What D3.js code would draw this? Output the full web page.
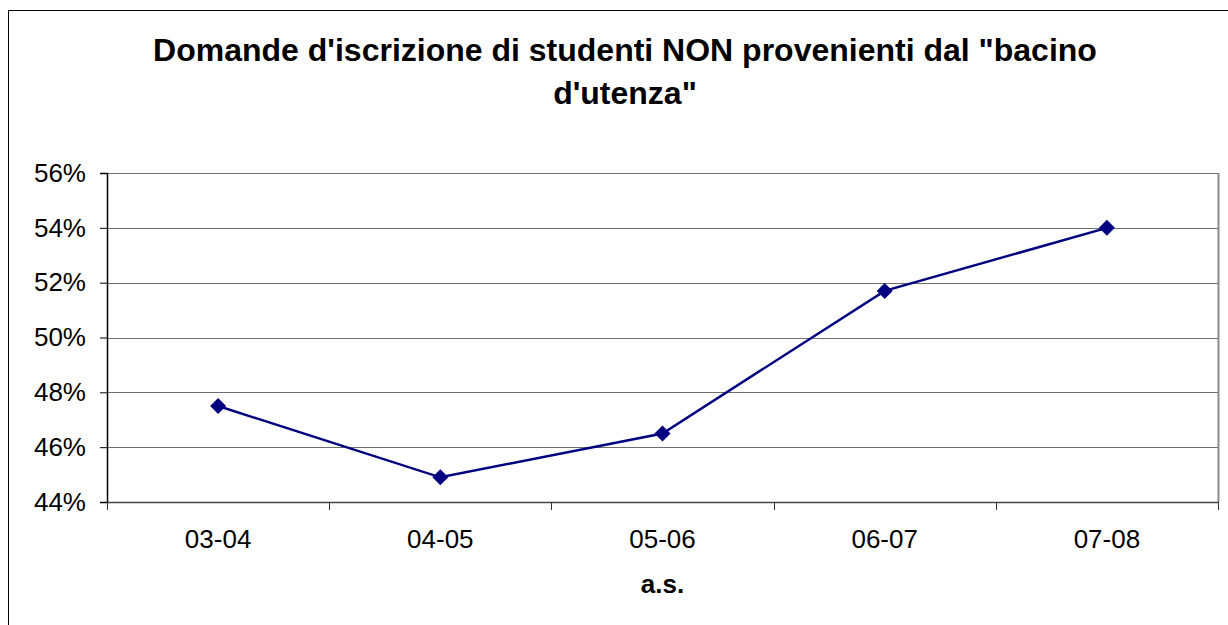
<!DOCTYPE html>
<html>
<head>
<meta charset="utf-8">
<script src="https://cdn.jsdelivr.net/npm/d3@7"></script>
<style>
  html, body { margin: 0; padding: 0; background: #fff; }
  svg { display: block; font-family: Arial, "Liberation Sans", sans-serif; }
  .tick text { font-size: 26px; fill: #000; }
</style>
</head>
<body>
<svg id="chart" width="1228" height="625"></svg>
<script>
'use strict';

var categories = ['03-04', '04-05', '05-06', '06-07', '07-08'];
var values = [0.475, 0.449, 0.465, 0.517, 0.540];
var yTicks = [0.44, 0.46, 0.48, 0.50, 0.52, 0.54, 0.56];
var titleLines = ['Domande d\'iscrizione di studenti NON provenienti dal "bacino', 'd\'utenza"'];
var xTitle = 'a.s.';

var PLOT = { left: 107, top: 173, right: 1218, bottom: 502 };

var svg = d3.select('#chart');

// outer chart border (runs off the right/bottom edge)
svg.append('rect')
  .attr('x', 8.5)
  .attr('y', 10.5)
  .attr('width', 1300)
  .attr('height', 700)
  .attr('fill', '#fff')
  .attr('stroke', '#000')
  .attr('stroke-width', 1);

var xScale = d3.scaleBand()
  .domain(categories)
  .range([PLOT.left, PLOT.right]);

var yScale = d3.scaleLinear()
  .domain([0.44, 0.56])
  .range([PLOT.bottom, PLOT.top]);

// gridlines
svg.append('g')
  .selectAll('line')
  .data(yTicks)
  .enter()
  .append('line')
  .attr('x1', PLOT.left)
  .attr('x2', PLOT.right)
  .attr('y1', function(d) { return Math.round(yScale(d)) + 0.5; })
  .attr('y2', function(d) { return Math.round(yScale(d)) + 0.5; })
  .attr('stroke', '#6e6e6e')
  .attr('stroke-width', 1.2);

// right border of plot area
svg.append('line')
  .attr('x1', PLOT.right + 0.5)
  .attr('x2', PLOT.right + 0.5)
  .attr('y1', PLOT.top)
  .attr('y2', PLOT.bottom)
  .attr('stroke', '#8c8c8c')
  .attr('stroke-width', 2);

// y axis
var yAxis = d3.axisLeft(yScale)
  .tickValues(yTicks)
  .tickSize(7)
  .tickPadding(14)
  .tickFormat(d3.format('.0%'));

var yG = svg.append('g')
  .attr('transform', 'translate(' + PLOT.left + ',0)')
  .call(yAxis);
yG.select('.domain').attr('stroke', '#000').attr('stroke-width', 1.5);
yG.selectAll('.tick line').attr('stroke', '#000');

// x axis, ticks at category boundaries
var xAxis = d3.axisBottom(xScale)
  .tickSize(0)
  .tickPadding(28);

var xG = svg.append('g')
  .attr('transform', 'translate(0,' + PLOT.bottom + ')')
  .call(xAxis);
xG.select('.domain').attr('stroke', '#444').attr('stroke-width', 1.5);

xG.selectAll('.boundary')
  .data(d3.range(categories.length + 1))
  .enter()
  .append('line')
  .attr('class', 'boundary')
  .attr('x1', function(i) { return Math.round(PLOT.left + i * xScale.step()) + 0.5; })
  .attr('x2', function(i) { return Math.round(PLOT.left + i * xScale.step()) + 0.5; })
  .attr('y1', 0)
  .attr('y2', 8)
  .attr('stroke', '#333')
  .attr('stroke-width', 1);

// series line
var line = d3.line()
  .x(function(d, i) { return xScale(categories[i]) + xScale.bandwidth() / 2; })
  .y(function(d) { return yScale(d); });

svg.append('path')
  .datum(values)
  .attr('d', line)
  .attr('fill', 'none')
  .attr('stroke', '#000080')
  .attr('stroke-width', 2.5);

// diamond markers
svg.append('g')
  .selectAll('path')
  .data(values)
  .enter()
  .append('path')
  .attr('d', 'M0,-8L8,0L0,8L-8,0Z')
  .attr('fill', '#000080')
  .attr('transform', function(d, i) {
    return 'translate(' + (xScale(categories[i]) + xScale.bandwidth() / 2) + ',' + yScale(d) + ')';
  });

// title
svg.append('g')
  .selectAll('text')
  .data(titleLines)
  .enter()
  .append('text')
  .attr('x', 625)
  .attr('y', function(d, i) { return 61 + i * 43; })
  .attr('text-anchor', 'middle')
  .attr('font-size', 32)
  .attr('font-weight', 'bold')
  .text(function(d) { return d; });

// x axis title
svg.append('text')
  .attr('x', (PLOT.left + PLOT.right) / 2)
  .attr('y', 593)
  .attr('text-anchor', 'middle')
  .attr('font-size', 26)
  .attr('font-weight', 'bold')
  .text(xTitle);
</script>
</body>
</html>
